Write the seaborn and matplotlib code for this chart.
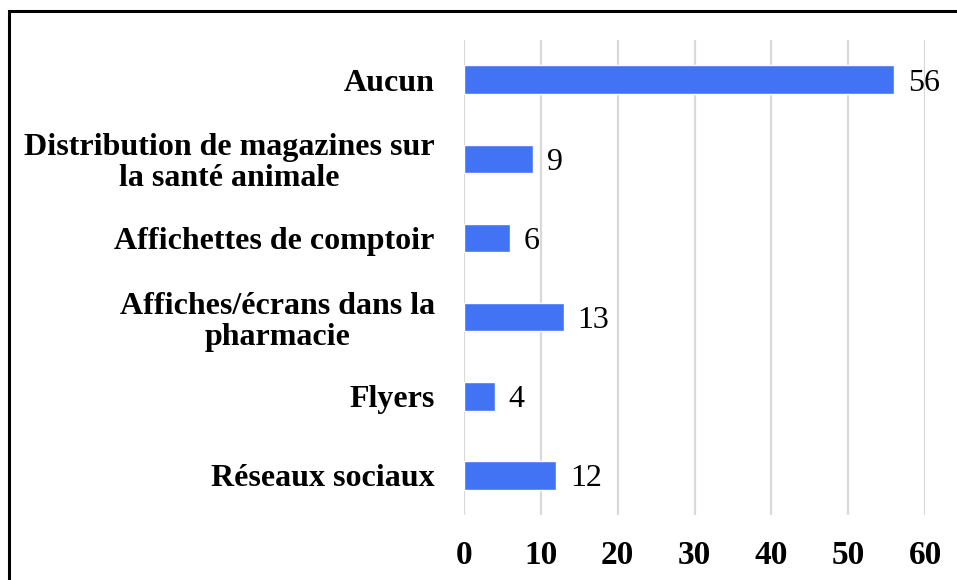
import matplotlib
matplotlib.use("Agg")
import matplotlib.pyplot as plt
import seaborn as sns
import pandas as pd
from matplotlib.patches import Rectangle

# -------------------------------
# DATA
# -------------------------------
categories = [
    "Aucun",
    "Distribution de magazines sur\nla santé animale",
    "Affichettes de comptoir",
    "Affiches/écrans dans la\npharmacie",
    "Flyers",
    "Réseaux sociaux",
]
values = [56, 9, 6, 13, 4, 12]
x_ticks = [0, 10, 20, 30, 40, 50, 60]

BAR_COLOR = "#4173F4"

df = pd.DataFrame({"canal": categories, "n": values})

# -------------------------------
# PLOT
# -------------------------------
sns.set_style("white")
plt.rcParams["font.family"] = ["Liberation Serif", "DejaVu Serif"]
plt.rcParams["text.color"] = "black"
plt.rcParams["xtick.color"] = "black"
plt.rcParams["ytick.color"] = "black"

fig = plt.figure(figsize=(9.57, 5.8), dpi=100)
ax = fig.add_axes([464 / 957, 1 - 515 / 580, (925 - 464) / 957, (515 - 40) / 580])

sns.barplot(data=df, y="canal", x="n", orient="h", color=BAR_COLOR,
            width=0.36, saturation=1, ax=ax, zorder=3)

ax.set_xlim(0, 60)
ax.set_ylim(len(categories) - 0.5, -0.5)
ax.set_xticks(x_ticks)
ax.set_xticklabels([str(t) for t in x_ticks], fontsize=24, fontweight="bold")
ax.set_yticks(range(len(categories)))
ax.set_yticklabels(categories, fontsize=23, fontweight="bold",
                   multialignment="center", linespacing=1.1)
ax.tick_params(axis="x", length=0, pad=18)
ax.tick_params(axis="y", length=0, pad=21)
ax.set_xlabel("")
ax.set_ylabel("")

ax.grid(axis="x", color="#d9d9d9", linewidth=1.6, zorder=0)
for s in ax.spines.values():
    s.set_visible(False)

for i, v in enumerate(values):
    ax.text(v + 1.8, i, str(v), va="center_baseline", ha="left", fontsize=23,
            color="black", zorder=4)

# outer frame (cut off at right and bottom like the source)
fig.patches.append(Rectangle((9 / 957, -0.1), 1.2, 1 - 11 / 580 + 0.1,
                             transform=fig.transFigure, fill=False,
                             edgecolor="black", linewidth=2.2))

fig.savefig("out.png", dpi=100, facecolor="white")
